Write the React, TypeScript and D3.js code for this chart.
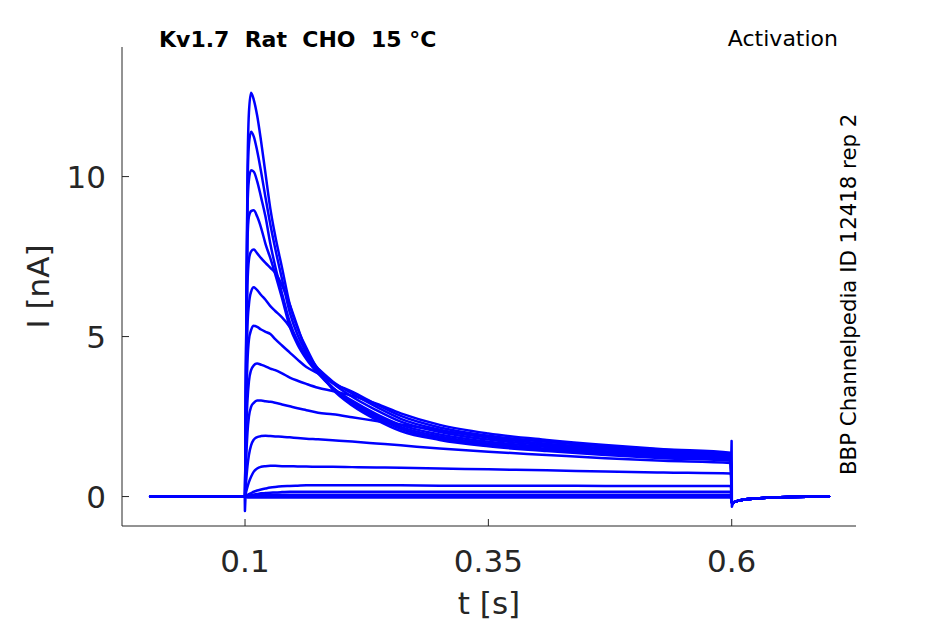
import React from "react";
import * as d3 from "d3";

// ---------- data ----------
const X_TICKS = [0.1, 0.35, 0.6];
const Y_TICKS = [0, 5, 10];
const X_TICK_LABELS = ["0.1", "0.35", "0.6"];
const Y_TICK_LABELS = ["0", "5", "10"];

const TITLE = "Kv1.7  Rat  CHO  15 °C";
const PROTOCOL = "Activation";
const SOURCE = "BBP Channelpedia ID 12418 rep 2";
const X_LABEL = "t [s]";
const Y_LABEL = "I [nA]";

// baseline before the step (s, nA)
const PRE_T = [0.0025, 0.05, 0.099];
const PRE_I = [0, 0, 0];

// time samples during the voltage step (s)
const STEP_T = [0.1, 0.1012, 0.1025, 0.104, 0.1062, 0.109, 0.1125, 0.1165, 0.121, 0.126, 0.131, 0.138, 0.146, 0.154, 0.163, 0.175, 0.19, 0.21, 0.235, 0.26, 0.3, 0.35, 0.41, 0.47, 0.53, 0.599];

// current traces during the step (nA), one per voltage step
const I1 = [0, 5.0, 10.0, 12.0, 12.62, 12.4, 11.9, 11.1, 10.1, 9.0, 8.15, 7.15, 6.0, 5.25, 4.65, 3.95, 3.35, 2.85, 2.4, 2.05, 1.77, 1.57, 1.42, 1.3, 1.2, 1.12];
const I2 = [0, 4.9, 9.5, 11.0, 11.4, 11.25, 10.8, 10.15, 9.35, 8.5, 7.75, 6.8, 5.75, 5.05, 4.5, 3.95, 3.4, 2.92, 2.47, 2.12, 1.82, 1.61, 1.46, 1.34, 1.24, 1.15];
const I3 = [0, 4.8, 9.0, 9.9, 10.2, 10.15, 9.85, 9.35, 8.75, 7.9, 7.2, 6.35, 5.45, 4.85, 4.4, 3.9, 3.4, 2.97, 2.53, 2.18, 1.88, 1.66, 1.5, 1.38, 1.27, 1.18];
const I4 = [0, 4.6, 8.0, 8.75, 8.92, 8.95, 8.75, 8.4, 7.9, 7.45, 6.95, 6.2, 5.3, 4.75, 4.3, 3.85, 3.4, 3.0, 2.58, 2.24, 1.94, 1.71, 1.55, 1.42, 1.31, 1.21];
const I5 = [0, 4.2, 6.6, 7.4, 7.66, 7.72, 7.6, 7.45, 7.3, 7.15, 7.0, 6.6, 6.0, 5.3, 4.55, 4.0, 3.55, 3.12, 2.7, 2.34, 2.02, 1.78, 1.6, 1.47, 1.35, 1.25];
const I6 = [0, 3.5, 5.3, 6.0, 6.4, 6.54, 6.45, 6.3, 6.15, 5.95, 5.8, 5.6, 5.3, 4.85, 4.35, 4.0, 3.6, 3.22, 2.8, 2.43, 2.09, 1.84, 1.65, 1.51, 1.39, 1.29];
const I7 = [0, 2.8, 4.2, 4.9, 5.2, 5.34, 5.3, 5.22, 5.15, 5.08, 4.92, 4.72, 4.5, 4.28, 4.05, 3.85, 3.55, 3.28, 2.88, 2.52, 2.16, 1.9, 1.71, 1.56, 1.43, 1.33];
const I8 = [0, 2.0, 3.0, 3.6, 3.95, 4.1, 4.16, 4.12, 4.07, 4.0, 3.95, 3.85, 3.72, 3.62, 3.52, 3.4, 3.3, 3.15, 2.9, 2.6, 2.24, 1.97, 1.77, 1.61, 1.48, 1.37];
const I9 = [0, 1.2, 2.0, 2.5, 2.8, 2.93, 3.0, 3.0, 2.98, 2.96, 2.93, 2.88, 2.82, 2.76, 2.7, 2.62, 2.57, 2.48, 2.36, 2.25, 2.06, 1.88, 1.72, 1.58, 1.46, 1.34];
const I10 = [0, 0.5, 0.95, 1.3, 1.6, 1.78, 1.86, 1.89, 1.9, 1.89, 1.88, 1.87, 1.85, 1.83, 1.81, 1.79, 1.76, 1.72, 1.66, 1.6, 1.5, 1.4, 1.3, 1.2, 1.12, 1.05];
const I11 = [0, 0.15, 0.3, 0.45, 0.62, 0.78, 0.88, 0.93, 0.95, 0.96, 0.96, 0.95, 0.95, 0.94, 0.94, 0.93, 0.93, 0.92, 0.91, 0.9, 0.88, 0.85, 0.82, 0.78, 0.75, 0.72];
const I12 = [0, 0.03, 0.05, 0.08, 0.11, 0.15, 0.19, 0.22, 0.25, 0.28, 0.3, 0.32, 0.33, 0.34, 0.35, 0.35, 0.35, 0.35, 0.35, 0.35, 0.34, 0.34, 0.34, 0.33, 0.33, 0.33];
const I13 = [0, 0.01, 0.02, 0.03, 0.04, 0.06, 0.08, 0.1, 0.11, 0.12, 0.13, 0.14, 0.15, 0.15, 0.15, 0.15, 0.15, 0.15, 0.15, 0.15, 0.15, 0.15, 0.15, 0.15, 0.15, 0.15];
const I14 = [0, 0.01, 0.02, 0.03, 0.04, 0.05, 0.06, 0.06, 0.06, 0.06, 0.06, 0.06, 0.06, 0.06, 0.06, 0.06, 0.06, 0.06, 0.06, 0.06, 0.06, 0.06, 0.06, 0.06, 0.06, 0.06];
const I15 = [0, 0, 0, 0, 0, 0, 0, 0, 0, 0, 0, 0, 0, 0, 0, 0, 0, 0, 0, 0, 0, 0, 0, 0, 0, 0];
const I16 = [0, -0.02, -0.03, -0.03, -0.03, -0.03, -0.03, -0.03, -0.03, -0.03, -0.03, -0.03, -0.03, -0.03, -0.03, -0.03, -0.03, -0.03, -0.03, -0.03, -0.03, -0.03, -0.03, -0.03, -0.03, -0.03];
const TRACES = [I1, I2, I3, I4, I5, I6, I7, I8, I9, I10, I11, I12, I13, I14, I15, I16];

// tail after the step (s, nA)
const TAIL_T = [0.6003, 0.603, 0.61, 0.625, 0.65, 0.7];
const TAIL_I = [-0.22, -0.17, -0.11, -0.06, -0.02, 0];

// capacitive transients
const ONSET_T = [0.0997, 0.0999, 0.1005];
const ONSET_I = [0, -0.45, 0];
const OFFSET_T = [0.5996, 0.5999, 0.6002, 0.6008];
const OFFSET_I = [1.3, 1.74, -0.32, -0.25];

// ---------- layout ----------
const W = 945;
const H = 624;
const X0 = 122;
const X1 = 856;
const Y0 = 526;
const Y1 = 47;
const INK = "#262626";
const BLUE = "#0000ff";
const FONT = "DejaVu Sans, sans-serif";

const x = d3.scaleLinear().domain([-0.0264, 0.7277]).range([X0, X1]);
const y = d3.scaleLinear().domain([-0.92, 14.05]).range([Y0, Y1]);

const smooth = d3
  .line<[number, number]>()
  .x((d) => x(d[0]))
  .y((d) => y(d[1]))
  .curve(d3.curveMonotoneX);
const straight = d3
  .line<[number, number]>()
  .x((d) => x(d[0]))
  .y((d) => y(d[1]));

const zip = (ts: number[], vs: number[]) => ts.map((t, i) => [t, vs[i]] as [number, number]);

export default function App() {
  const tracePaths = TRACES.map((vals) => {
    const pts = [...zip(PRE_T, PRE_I), ...zip(STEP_T, vals), ...zip(TAIL_T, TAIL_I)];
    return smooth(pts) || "";
  });
  return (
    <svg
      width={W}
      height={H}
      viewBox={`0 0 ${W} ${H}`}
      style={{ position: "absolute", left: 0, top: 0, background: "#fff" }}
      fontFamily={FONT}
    >
      <rect x={0} y={0} width={W} height={H} fill="#fff" />
      {/* traces */}
      <g fill="none" stroke={BLUE} strokeWidth={2.5} strokeLinejoin="round" strokeLinecap="round">
        {tracePaths.map((d, i) => (
          <path key={i} d={d} />
        ))}
        <path d={straight(zip(ONSET_T, ONSET_I)) || ""} />
        <path d={straight(zip(OFFSET_T, OFFSET_I)) || ""} />
      </g>
      {/* axes */}
      <g stroke={INK} strokeWidth={1} fill="none">
        <line x1={X0} y1={Y0} x2={X1} y2={Y0} />
        <line x1={X0} y1={Y0} x2={X0} y2={Y1} />
        {X_TICKS.map((t) => (
          <line key={"xt" + t} x1={x(t)} x2={x(t)} y1={Y0} y2={Y0 - 7} />
        ))}
        {Y_TICKS.map((t) => (
          <line key={"yt" + t} x1={X0} x2={X0 + 7} y1={y(t)} y2={y(t)} />
        ))}
      </g>
      <g fill={INK} fontSize={31}>
        {X_TICKS.map((t, i) => (
          <text key={"xl" + t} x={x(t)} y={572} textAnchor="middle">
            {X_TICK_LABELS[i]}
          </text>
        ))}
        {Y_TICKS.map((t, i) => (
          <text key={"yl" + t} x={106} y={y(t) + 11} textAnchor="end">
            {Y_TICK_LABELS[i]}
          </text>
        ))}
        <text x={(X0 + X1) / 2 + 0} y={614} textAnchor="middle">
          {X_LABEL}
        </text>
        <text transform={`translate(49, ${(Y0 + Y1) / 2}) rotate(-90)`} textAnchor="middle">
          {Y_LABEL}
        </text>
      </g>
      <text x={159} y={47} fontSize={22} fontWeight="bold" fill="#000" style={{ whiteSpace: "pre" }}>
        {TITLE}
      </text>
      <text x={838} y={46} fontSize={22} fill="#000" textAnchor="end">
        {PROTOCOL}
      </text>
      <text transform={`translate(856, 475) rotate(-90)`} fontSize={21.3} fill="#000">
        {SOURCE}
      </text>
    </svg>
  );
}
